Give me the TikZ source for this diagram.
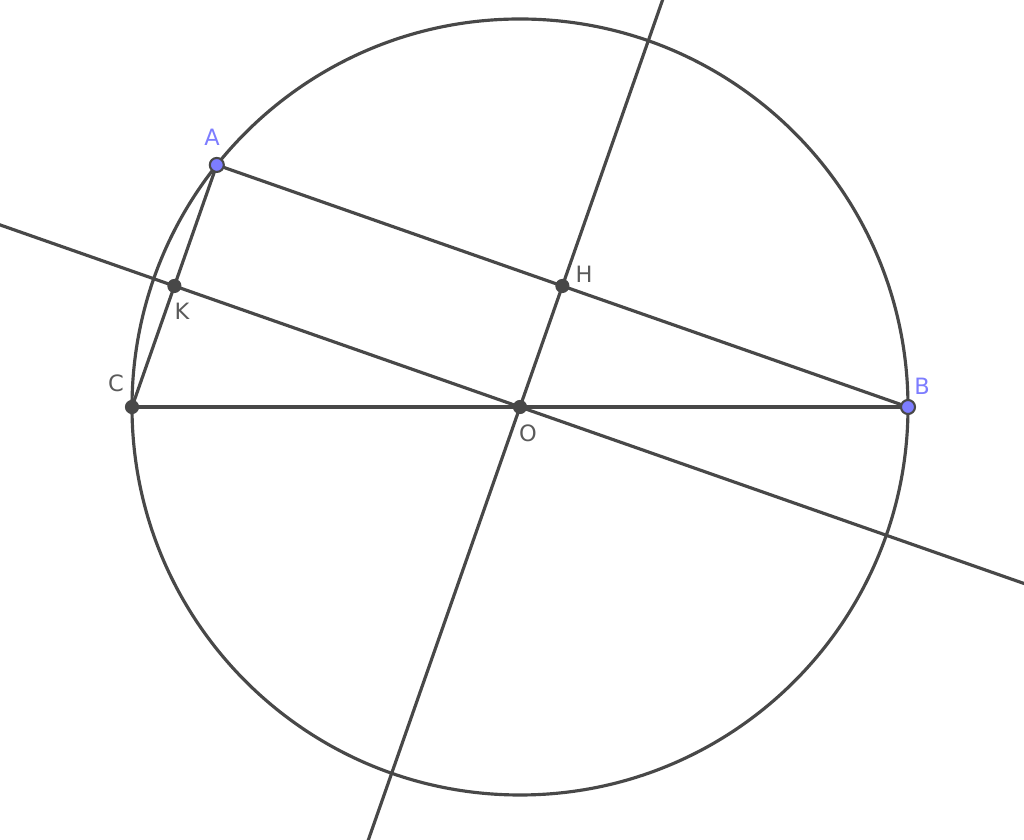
\documentclass[tikz,border=0pt]{standalone}
\usepackage{fontspec}
\setmainfont{DejaVu Sans}
\usetikzlibrary{calc}
\definecolor{ptblue}{RGB}{125,125,255}
\definecolor{linegray}{RGB}{72,72,72}
\definecolor{labgray}{RGB}{90,90,90}
\tikzset{
  geoline/.style={draw=linegray, line width=0.9pt},
  bluept/.style={circle, fill=ptblue, draw=linegray, line width=0.6pt, inner sep=0pt, minimum size=0.14cm},
  darkpt/.style={circle, fill=linegray, draw=linegray, line width=0.6pt, inner sep=0pt, minimum size=0.12cm},
  lab/.style={font=\fontsize{6.4}{7}\selectfont, inner sep=0pt, text=labgray},
}

\begin{document}
\begin{tikzpicture}
      \useasboundingbox (0, 0) rectangle (10.24, 8.40);
      \clip (0, 0) rectangle (10.24, 8.40);
      \coordinate (O) at (5.20, 4.33);
      \coordinate (A) at ($(O) + (141.4:3.88)$);
      \coordinate (B) at (9.08, 4.33);
      \coordinate (C) at (1.32, 4.33);
      \coordinate (H) at ($(A)!0.5!(B)$);
      \coordinate (K) at ($(A)!0.5!(C)$);
      \draw[geoline] (O) circle (3.88);
      \draw[geoline] (A) -- (B);
      \draw[geoline] (A) -- (C);
      \draw[geoline] (C) -- (B);
      \draw[geoline] ($(O)!-3.7!(H)$) -- ($(O)!3.5!(H)$);
      \draw[geoline] ($(O)!-1.6!(K)$) -- ($(O)!1.6!(K)$);
      \node[darkpt] (pO) at (O) {};
      \node[darkpt] (pC) at (C) {};
      \node[darkpt] (pH) at (H) {};
      \node[darkpt] (pK) at (K) {};
      \node[bluept] (pA) at (A) {};
      \node[bluept] (pB) at (B) {};
      \node[lab, text=ptblue] (lA) at (2.12, 7.03) {A};
      \node[lab, text=ptblue] (lB) at (9.22, 4.54) {B};
      \node[lab] (lC) at (1.16, 4.57) {C};
      \node[lab] (lK) at (1.82, 5.29) {K};
      \node[lab] (lH) at (5.84, 5.66) {H};
      \node[lab] (lO) at (5.28, 4.07) {O};
    \end{tikzpicture}
\end{document}
